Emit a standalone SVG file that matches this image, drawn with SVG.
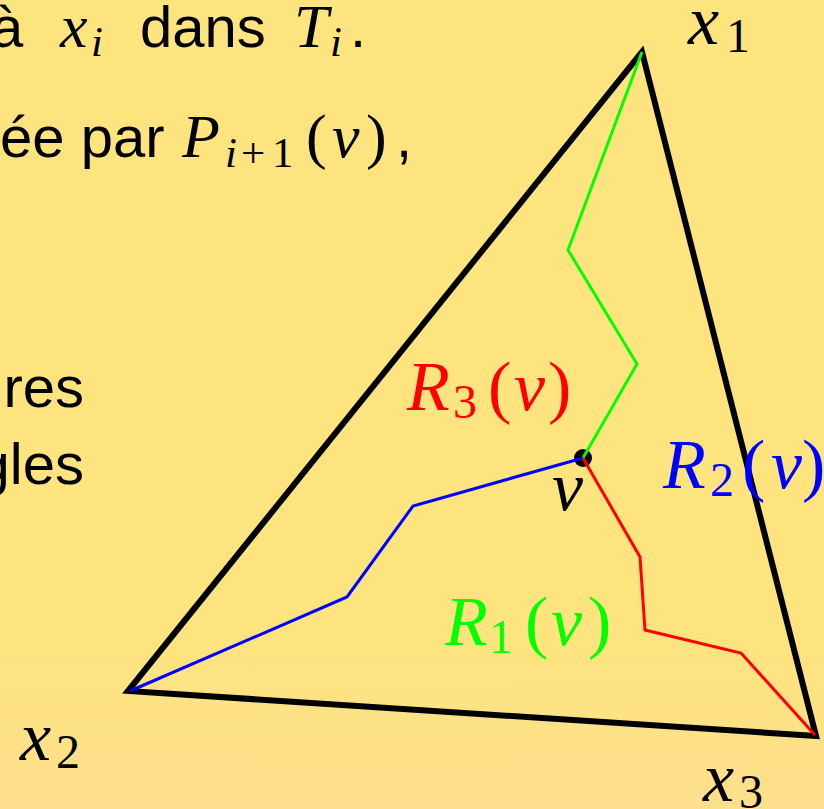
<svg xmlns="http://www.w3.org/2000/svg" width="824" height="809" viewBox="0 0 824 809">
<defs>
<linearGradient id="bg" x1="0" y1="0" x2="0" y2="1">
<stop offset="0" stop-color="#FDE47F"/>
<stop offset="0.8" stop-color="#FDE47F"/>
<stop offset="1" stop-color="#FEDF8D"/>
</linearGradient>
<style>
.t{font-family:"Liberation Sans",Arial,sans-serif;font-size:58px;fill:#000}
.m{font-family:"Liberation Serif","Times New Roman",serif;font-style:italic}
.n{font-family:"Liberation Serif","Times New Roman",serif;font-style:normal}
.L{font-size:70px}
.s{font-size:48px}
.tm{font-size:62px}
.ts{font-size:43px}
.edge{fill:none;stroke:#000;stroke-width:6;stroke-linejoin:miter}
.ray{fill:none;stroke-width:3;stroke-linejoin:miter;stroke-linecap:butt}
.red{fill:#FF0000}
.blue{fill:#0000FF}
.green{fill:#00FF00}
</style>
</defs>
<rect x="0" y="0" width="824" height="809" fill="url(#bg)"/>

<g id="slide-text">
<text class="t" x="-9" y="47">à</text>
<text class="m tm" x="60" y="47">x</text>
<text class="m ts" x="91" y="56">i</text>
<text class="t" x="140" y="47">dans</text>
<text class="m tm" x="294" y="47">T</text>
<text class="m ts" x="330" y="56">i</text>
<text class="t" x="350" y="47">.</text>

<text class="t" x="0" y="157">ée par</text>
<text class="m tm" x="182" y="157">P</text>
<text class="m ts" x="225" y="167">i</text>
<text class="n ts" x="241" y="167">+</text>
<text class="n ts" x="272" y="167">1</text>
<text class="n tm" x="306" y="157">(</text>
<text class="m tm" x="332" y="157">v</text>
<text class="n tm" x="366" y="157">)</text>
<text class="t" x="396" y="157">,</text>

<text class="t" x="84" y="407" text-anchor="end">res</text>
<text class="t" x="84" y="484" text-anchor="end">gles</text>
</g>

<g id="triangle">
<polygon class="edge" points="642,52 128,691 816,736"/>
</g>

<g id="v">
<circle cx="583" cy="458" r="9" fill="#000"/>
</g>

<g id="connectors">
<polyline class="ray" stroke="#00FF00" points="642,52 568,250 637,364 583,458"/>
<polyline class="ray" stroke="#0000FF" points="583,458 413,506 347,597 130,691"/>
<polyline class="ray" stroke="#FF0000" points="583,458 640,557 645,630 741,653 815,735"/>
</g>

<g id="x1">
<text class="m L" x="688" y="44">x</text>
<text class="n s" x="726" y="52">1</text>
</g>
<g id="x2">
<text class="m L" x="20" y="760">x</text>
<text class="n s" x="56" y="768">2</text>
</g>
<g id="x3">
<text class="m L" x="703" y="801">x</text>
<text class="n s" x="739" y="808">3</text>
</g>
<g id="v-label">
<text class="m L" x="552" y="510">v</text>
</g>

<g id="R3">
<text class="m L red" x="407" y="410">R</text>
<text class="n s red" x="453" y="418">3</text>
<text class="n L red" x="488" y="410">(</text>
<text class="m L red" x="514" y="410">v</text>
<text class="n L red" x="548" y="410">)</text>
</g>
<g id="R2">
<text class="m L blue" x="663" y="488">R</text>
<text class="n s blue" x="710" y="496">2</text>
<text class="n L blue" x="742" y="488">(</text>
<text class="m L blue" x="771" y="488">v</text>
<text class="n L blue" x="802" y="488">)</text>
</g>
<g id="R1">
<text class="m L green" x="445" y="645">R</text>
<text class="n s green" x="489" y="653">1</text>
<text class="n L green" x="525" y="645">(</text>
<text class="m L green" x="551" y="645">v</text>
<text class="n L green" x="588" y="645">)</text>
</g>
</svg>
